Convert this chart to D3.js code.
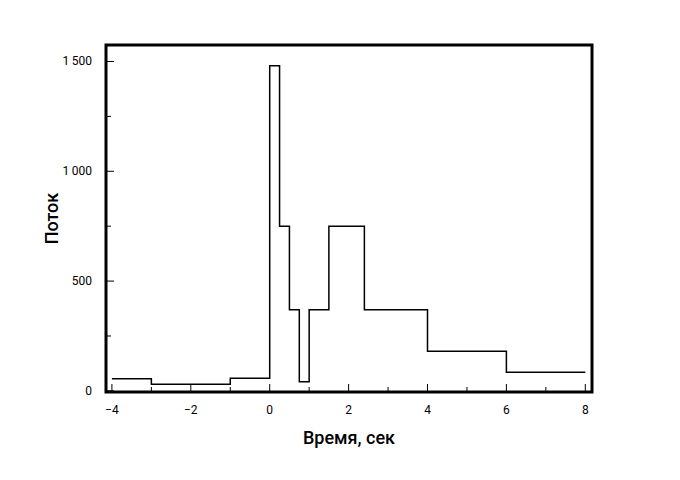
<!DOCTYPE html>
<html><head><meta charset="utf-8">
<script src="https://cdn.jsdelivr.net/npm/d3@7"></script>
<style>body{margin:0;background:#fff}text{font-family:Roboto,sans-serif}</style>
</head><body><svg id="c" width="680" height="480"></svg>
<script>
const edges = [-4, -3, -1, 0, 0.25, 0.5, 0.75, 1, 1.5, 2.4, 4, 6, 8];
const flux = [55, 30, 58, 1480, 750, 370, 42, 370, 750, 370, 180, 85];
const xTicks = [-4, -2, 0, 2, 4, 6, 8];
const yTicks = [0, 500, 1000, 1500];

const mLeft = 106, mRight = 592, mTop = 45, mBottom = 392;
const svg = d3.select('#c');
const x = d3.scaleLinear().domain([-4.15, 8.17]).range([mLeft, mRight]);
const y = d3.scaleLinear().domain([-5, 1575]).range([mBottom, mTop]);
const fmt = d => d >= 1000 ? d3.format(',')(d).replace(',', '\u2009') : d3.format('')(d).replace('-', '\u2212');

// step outline
const pts = [];
flux.forEach((v, i) => { pts.push([edges[i], v], [edges[i + 1], v]); });
svg.append('path')
  .attr('d', d3.line().x(d => x(d[0])).y(d => y(d[1]))(pts))
  .attr('fill', 'none').attr('stroke', '#000').attr('stroke-width', 1.5);

// ticks (inward)
const g = svg.append('g').attr('stroke', '#000').attr('stroke-width', 1);
d3.range(-4, 9).forEach(t => g.append('line').attr('x1', x(t)).attr('x2', x(t))
  .attr('y1', mBottom).attr('y2', mBottom - (t % 2 === 0 ? 8 : 5)));
d3.range(0, 1501, 250).forEach(t => g.append('line').attr('y1', y(t)).attr('y2', y(t))
  .attr('x1', mLeft).attr('x2', mLeft + (t % 500 === 0 ? 8 : 5)));

svg.selectAll('.xl').data(xTicks).join('text').attr('x', d => x(d)).attr('y', mBottom + 22)
  .attr('text-anchor', 'middle').attr('font-size', 12).text(fmt);
svg.selectAll('.yl').data(yTicks).join('text').attr('x', mLeft - 14).attr('y', d => y(d) + 4)
  .attr('text-anchor', 'end').attr('font-size', 12).text(fmt);

svg.append('rect').attr('x', mLeft).attr('y', mTop).attr('width', mRight - mLeft).attr('height', mBottom - mTop)
  .attr('fill', 'none').attr('stroke', '#000').attr('stroke-width', 3);

svg.append('text').attr('x', (mLeft + mRight) / 2).attr('y', 444).attr('text-anchor', 'middle')
  .attr('font-size', 18).attr('font-weight', 500).text('Время, сек');
svg.append('text').attr('transform', `translate(58,${(mTop + mBottom) / 2}) rotate(-90)`)
  .attr('text-anchor', 'middle').attr('font-size', 18).attr('font-weight', 500).text('Поток');
</script></body></html>
